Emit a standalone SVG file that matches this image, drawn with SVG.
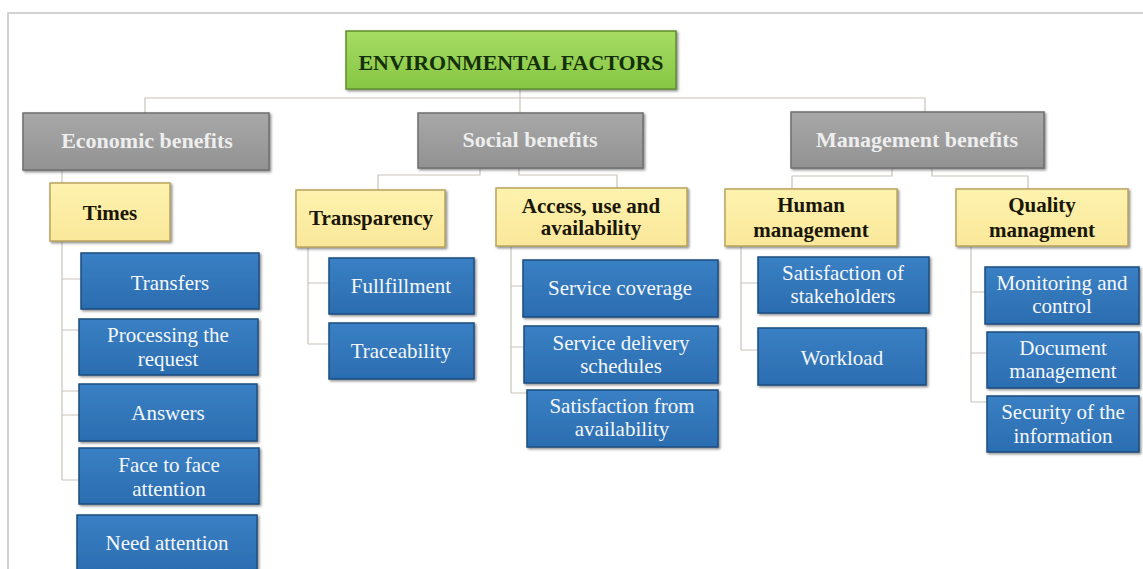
<svg xmlns="http://www.w3.org/2000/svg" width="1143" height="569" viewBox="0 0 1143 569">
<defs>
<filter id="sh" x="-5%" y="-10%" width="115%" height="130%">
<feDropShadow dx="1.5" dy="1.5" stdDeviation="1" flood-color="#404040" flood-opacity="0.6"/>
</filter>
<linearGradient id="gGreen" x1="0" y1="0" x2="0" y2="1">
<stop offset="0" stop-color="#a6dc63"/><stop offset="1" stop-color="#86c644"/>
</linearGradient>
<linearGradient id="gGray" x1="0" y1="0" x2="0" y2="1">
<stop offset="0" stop-color="#a8a8a8"/><stop offset="1" stop-color="#929292"/>
</linearGradient>
<linearGradient id="gYel" x1="0" y1="0" x2="0" y2="1">
<stop offset="0" stop-color="#fdf2ae"/><stop offset="1" stop-color="#fae89a"/>
</linearGradient>
<linearGradient id="gBlue" x1="0" y1="0" x2="0" y2="1">
<stop offset="0" stop-color="#3a80c4"/><stop offset="1" stop-color="#2b6db0"/>
</linearGradient>
</defs>
<style>
.green{fill:url(#gGreen);stroke:#5f8f2c;stroke-width:1.5;filter:url(#sh)}
.gray{fill:url(#gGray);stroke:#6f6f6f;stroke-width:1.5;filter:url(#sh)}
.yel{fill:url(#gYel);stroke:#b9a45e;stroke-width:1.5;filter:url(#sh)}
.blue{fill:url(#gBlue);stroke:#1d4e80;stroke-width:1.5;filter:url(#sh)}
text{font-family:"Liberation Serif","Times New Roman",serif;text-anchor:middle}
.tr{font-size:22px;font-weight:bold;fill:#14300a}
.tg{font-size:22px;font-weight:bold;fill:#eeeeee}
.ty{font-size:21px;font-weight:bold;fill:#1a1608}
.tb{font-size:21px;fill:#f4f7fb}
.con path{fill:none;stroke:#c9c3bc;stroke-width:1.2}
.frame{fill:none;stroke:#c4c4c4;stroke-width:1.5}
</style>
<rect width="1143" height="569" fill="#ffffff"/>
<path class="frame" d="M8,569 V13 H1143"/>

<g class="con" id="connectors">
<path d="M520,89 V98"/>
<path d="M145,113 V98 H925 V112"/>
<path d="M520,98 V113"/>
<path d="M62,170 V183"/>
<path d="M480,168 V175 H378 V190"/>
<path d="M519,168 V175 H617 V188"/>
<path d="M892,168 V176 H792 V189"/>
<path d="M932,168 V176 H1028 V189"/>
<path d="M62,241 V480"/>
<path d="M62,279 H81 M62,330 H79 M62,391 H79 M62,415 H79 M62,480 H79"/>
<path d="M308,247 V344 M308,283 H329 M308,344 H329"/>
<path d="M511,246 V393 M511,286 H523 M511,347 H524 M511,393 H527"/>
<path d="M741,246 V350 M741,283 H758 M741,350 H758"/>
<path d="M971,246 V402 M971,292 H985 M971,353 H987 M971,402 H987"/>
</g>

<g id="root"><rect class="green" x="346" y="31" width="330" height="58"/><text class="tr" x="511" y="70" textLength="305" lengthAdjust="spacingAndGlyphs">ENVIRONMENTAL FACTORS</text></g>

<g id="economic"><rect class="gray" x="23" y="113" width="246" height="57"/><text class="tg" x="147" y="148">Economic benefits</text></g>
<g id="social"><rect class="gray" x="418" y="113" width="225" height="55"/><text class="tg" x="530" y="147">Social benefits</text></g>
<g id="management"><rect class="gray" x="791" y="112" width="253" height="56"/><text class="tg" x="917" y="147">Management benefits</text></g>

<g id="times"><rect class="yel" x="50" y="183" width="120" height="58"/><text class="ty" x="110" y="220">Times</text></g>
<g id="transparency"><rect class="yel" x="296" y="190" width="149" height="57"/><text class="ty" x="371" y="225">Transparency</text></g>
<g id="access"><rect class="yel" x="496" y="188" width="191" height="58"/><text class="ty" x="591" y="213">Access, use and</text><text class="ty" x="591" y="235">availability</text></g>
<g id="human"><rect class="yel" x="725" y="189" width="172" height="57"/><text class="ty" x="811" y="212">Human</text><text class="ty" x="811" y="237">management</text></g>
<g id="quality"><rect class="yel" x="956" y="189" width="172" height="57"/><text class="ty" x="1042" y="212">Quality</text><text class="ty" x="1042" y="237">managment</text></g>

<g id="transfers"><rect class="blue" x="81" y="253" width="178" height="56"/><text class="tb" x="170" y="290">Transfers</text></g>
<g id="processing"><rect class="blue" x="79" y="319" width="179" height="56"/><text class="tb" x="168" y="342">Processing the</text><text class="tb" x="168" y="366">request</text></g>
<g id="answers"><rect class="blue" x="79" y="384" width="178" height="57"/><text class="tb" x="168" y="420">Answers</text></g>
<g id="face"><rect class="blue" x="79" y="448" width="180" height="56"/><text class="tb" x="169" y="472">Face to face</text><text class="tb" x="169" y="496">attention</text></g>
<g id="need"><rect class="blue" x="77" y="515" width="180" height="58"/><text class="tb" x="167" y="550">Need attention</text></g>

<g id="fullfillment"><rect class="blue" x="329" y="258" width="145" height="56"/><text class="tb" x="401" y="293">Fullfillment</text></g>
<g id="traceability"><rect class="blue" x="329" y="323" width="145" height="56"/><text class="tb" x="401" y="358">Traceability</text></g>

<g id="coverage"><rect class="blue" x="523" y="260" width="195" height="57"/><text class="tb" x="620" y="295">Service coverage</text></g>
<g id="schedules"><rect class="blue" x="524" y="326" width="194" height="57"/><text class="tb" x="621" y="350">Service delivery</text><text class="tb" x="621" y="373">schedules</text></g>
<g id="satavail"><rect class="blue" x="527" y="390" width="191" height="57"/><text class="tb" x="622" y="413">Satisfaction from</text><text class="tb" x="622" y="436">availability</text></g>

<g id="stakeholders"><rect class="blue" x="758" y="257" width="171" height="56"/><text class="tb" x="843" y="280">Satisfaction of</text><text class="tb" x="843" y="303">stakeholders</text></g>
<g id="workload"><rect class="blue" x="758" y="328" width="168" height="57"/><text class="tb" x="842" y="365">Workload</text></g>

<g id="monitoring"><rect class="blue" x="985" y="267" width="154" height="57"/><text class="tb" x="1062" y="290">Monitoring and</text><text class="tb" x="1062" y="313">control</text></g>
<g id="document"><rect class="blue" x="987" y="332" width="152" height="56"/><text class="tb" x="1063" y="355">Document</text><text class="tb" x="1063" y="378">management</text></g>
<g id="security"><rect class="blue" x="987" y="396" width="152" height="56"/><text class="tb" x="1063" y="419">Security of the</text><text class="tb" x="1063" y="443">information</text></g>
</svg>
